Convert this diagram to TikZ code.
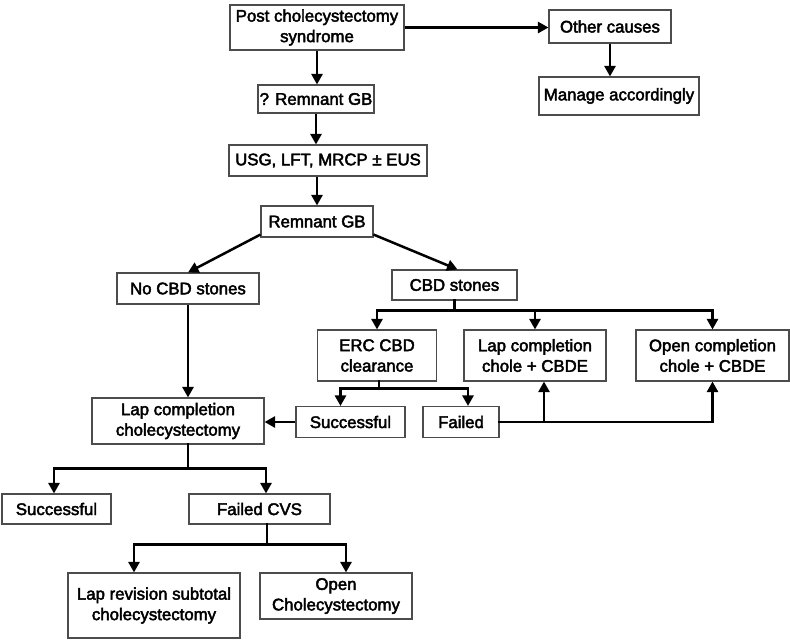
\documentclass[tikz,border=0pt]{standalone}
\usepackage{fontspec}
\newfontfamily\bxfont{Liberation Sans}[FakeBold=2.6]
\usetikzlibrary{arrows.meta}
\tikzset{
  box/.style={draw=black!70, line width=1.1pt, fill=white, align=center, inner sep=0pt,
    font=\bxfont\fontsize{16.8}{20.5}\selectfont},
  ln/.style={line width=2.5pt, black, line cap=rect},
  arr/.style={line width=2.5pt, black, -{Triangle[length=10.5pt,width=11pt]}}
}
\begin{document}
\begin{tikzpicture}[x=1pt,y=-1pt]
\fill[white] (0,0) rectangle (790,641);
\useasboundingbox (0,0) rectangle (790,641);
% nodes
\node[box, minimum width=174pt, minimum height=45pt] (post) at (317,27.5) {Post cholecystectomy\\syndrome};
\node[box, minimum width=122pt, minimum height=33pt] (other) at (610,26.5) {Other causes};
\node[box, minimum width=160pt, minimum height=38pt] (manage) at (619,96) {Manage accordingly};
\node[box, minimum width=116pt, minimum height=28pt] (qrgb) at (316,99) {? Remnant GB};
\node[box, minimum width=198pt, minimum height=31pt] (usg) at (328,160.5) {USG, LFT, MRCP ± EUS};
\node[box, minimum width=112pt, minimum height=31pt] (rgb) at (317,221.5) {Remnant GB};
\node[box, minimum width=142pt, minimum height=31pt] (nocbd) at (188,288.5) {No CBD stones};
\node[box, minimum width=125pt, minimum height=30pt] (cbd) at (454.5,285) {CBD stones};
\node[box, minimum width=119pt, minimum height=51pt] (erc) at (377,355.5) {ERC CBD\\clearance};
\node[box, minimum width=142pt, minimum height=51pt] (lapchole) at (535,355.5) {Lap completion\\chole + CBDE};
\node[box, minimum width=153pt, minimum height=51pt] (openchole) at (712.5,355.5) {Open completion\\chole + CBDE};
\node[box, minimum width=109pt, minimum height=31pt] (succa) at (350.5,422) {Successful};
\node[box, minimum width=76pt, minimum height=31pt] (failed) at (461,422) {Failed};
\node[box, minimum width=172pt, minimum height=46pt] (lapcomp) at (178,421) {Lap completion\\cholecystectomy};
\node[box, minimum width=109pt, minimum height=30pt] (succb) at (56.5,509) {Successful};
\node[box, minimum width=141pt, minimum height=30pt] (fcvs) at (259.5,509) {Failed CVS};
\node[box, minimum width=172pt, minimum height=65pt] (laprev) at (154,605.5) {Lap revision subtotal\\cholecystectomy};
\node[box, minimum width=152pt, minimum height=46pt] (openc) at (336,596) {Open\\Cholecystectomy};
% helper coordinates
\coordinate (cbj) at ([yshift=-10pt]cbd.south);
\coordinate (ej) at ([yshift=-7pt]erc.south);
\coordinate (sat) at ([xshift=-10pt]succa.north);
\coordinate (fat) at ([xshift=7pt]failed.north);
\coordinate (lcb) at ([xshift=9pt]lapchole.south);
\coordinate (lj) at ([yshift=-24pt]nocbd.south |- lapcomp.south);
\coordinate (sbt) at ([xshift=-2.5pt]succb.north);
\coordinate (fct) at ([xshift=6.5pt]fcvs.north);
\coordinate (fcb) at ([xshift=7.5pt]fcvs.south);
\coordinate (fj) at ([yshift=-20pt]fcb);
\coordinate (lrt) at ([xshift=-20pt]laprev.north);
\coordinate (oct) at ([xshift=10pt]openc.north);
% connectors
\draw[arr] (post.south) -- (post.south |- qrgb.north);
\draw[arr] (qrgb.south) -- (qrgb.south |- usg.north);
\draw[arr] (usg.south -| rgb.north) -- (rgb.north);
\draw[arr] (post.east) -- (post.east -| other.west);
\draw[arr] (other.south) -- (other.south |- manage.north);
\draw[arr] ([yshift=3pt]rgb.south west) -- (nocbd.north);
\draw[arr] ([yshift=3pt]rgb.south east) -- ([xshift=3pt]cbd.north);
% CBD stones branch
\draw[ln] (cbd.south) -- (cbj);
\draw[ln] (cbj -| erc.north) -- (cbj -| openchole.north);
\draw[arr] (cbj -| erc.north) -- (erc.north);
\draw[arr] (cbj -| lapchole.north) -- (lapchole.north);
\draw[arr] (cbj -| openchole.north) -- (openchole.north);
% ERC branch
\draw[ln] ([xshift=2pt]erc.south) -- ([xshift=2pt]erc.south |- ej);
\draw[ln] (sat |- ej) -- (fat |- ej);
\draw[arr] (sat |- ej) -- (sat);
\draw[arr] (fat |- ej) -- (fat);
% Failed -> surgery options
\draw[ln] (failed.east) -- (failed.east -| openchole.south);
\draw[arr] (failed.east -| lcb) -- (lcb);
\draw[arr] (failed.east -| openchole.south) -- (openchole.south);
% Successful -> lap completion
\draw[arr] (succa.west) -- (succa.west -| lapcomp.east);
% No CBD -> lap completion
\draw[arr] (nocbd.south) -- (nocbd.south |- lapcomp.north);
% lap completion branch
\draw[ln] (nocbd.south |- lapcomp.south) -- (lj);
\draw[ln] (sbt |- lj) -- (fct |- lj);
\draw[arr] (sbt |- lj) -- (sbt);
\draw[arr] (fct |- lj) -- (fct);
% failed CVS branch
\draw[ln] (fcb) -- (fj);
\draw[ln] (lrt |- fj) -- (oct |- fj);
\draw[arr] (lrt |- fj) -- (lrt);
\draw[arr] (oct |- fj) -- (oct);
\end{tikzpicture}
\end{document}
